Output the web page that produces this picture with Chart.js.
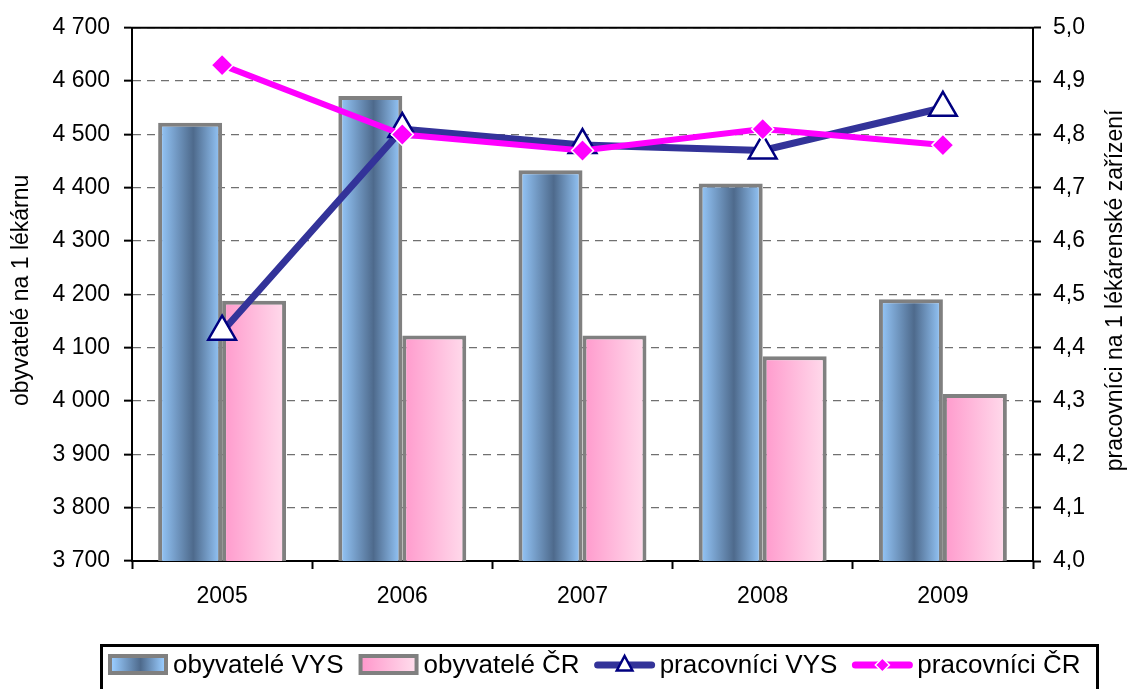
<!DOCTYPE html>
<html>
<head>
<meta charset="utf-8">
<script src="https://cdn.jsdelivr.net/npm/chart.js@4/dist/chart.umd.min.js"></script>
<style>
html,body{margin:0;padding:0;background:#fff;}
#wrap{width:1132px;height:689px;position:relative;}
</style>
</head>
<body>
<div id="wrap"><canvas id="c" width="1132" height="689"></canvas></div>
<script>
const categories = ['2005', '2006', '2007', '2008', '2009'];
const obyvateleVYS = [4522, 4572, 4433, 4408, 4191];
const obyvateleCR = [4188, 4123, 4123, 4084, 4013];
const pracovniciVYS = [4.43, 4.81, 4.78, 4.77, 4.85];
const pracovniciCR = [4.93, 4.80, 4.77, 4.81, 4.78];
const seriesNames = ['obyvatelé VYS', 'obyvatelé ČR', 'pracovníci VYS', 'pracovníci ČR'];
const leftTitle = 'obyvatelé na 1 lékárnu';
const rightTitle = 'pracovníci na 1 lékárenské zařízení';

const FONT = '"Liberation Sans", Arial, sans-serif';
const CAT_PCT = 0.71;
const blueStops = [[0, '#99ccff'], [0.55, '#4e6a8c'], [1, '#99ccff']];
const pinkStops = [[0, '#ff99cc'], [1, '#ffdcec']];

function makeGrad(c, x0, x1, stops) {
  const g = c.createLinearGradient(x0, 0, x1, 0);
  stops.forEach(s => g.addColorStop(s[0], s[1]));
  return g;
}

function barFill(stops, side) {
  return function (ctx) {
    const chart = ctx.chart;
    const xs = chart.scales && chart.scales.x;
    if (!xs || !chart.chartArea || ctx.dataIndex === undefined) return stops[0][1];
    const center = xs.getPixelForValue(ctx.dataIndex);
    const bw = xs.width / categories.length * CAT_PCT / 2;
    const x0 = side < 0 ? center - bw : center;
    return makeGrad(chart.ctx, x0, x0 + bw, stops);
  };
}

const framePlugin = {
  id: 'frame',
  beforeDatasetsDraw(chart) {
    const {ctx, chartArea: a} = chart;
    ctx.save();
    ctx.strokeStyle = '#000';
    ctx.lineWidth = 2;
    ctx.beginPath();
    ctx.moveTo(a.left - 1, a.top);
    ctx.lineTo(a.right + 1, a.top);
    ctx.stroke();
    ctx.restore();
  },
  afterDraw(chart) {
    const {ctx, chartArea: a} = chart;
    const midY = (a.top + a.bottom) / 2;
    [[leftTitle, 22, midY - 4], [rightTitle, 1116, midY - 4]].forEach(t => {
      ctx.save();
      ctx.fillStyle = '#000';
      ctx.font = '23px ' + FONT;
      ctx.textAlign = 'center';
      ctx.textBaseline = 'middle';
      ctx.translate(t[1], t[2]);
      ctx.rotate(-Math.PI / 2);
      ctx.fillText(t[0], 0, 0);
      ctx.restore();
    });

    // legend
    ctx.save();
    ctx.strokeStyle = '#000';
    ctx.lineWidth = 3;
    ctx.strokeRect(101.5, 645.5, 996, 60);
    ctx.font = '26px ' + FONT;
    ctx.textBaseline = 'middle';
    ctx.textAlign = 'left';
    const cy = 665;
    let x = 108;
    seriesNames.forEach((name, i) => {
      if (i < 2) {
        ctx.fillStyle = '#808080';
        ctx.fillRect(x, cy - 11, 60, 21);
        ctx.fillStyle = makeGrad(ctx, x + 4, x + 56, i === 0 ? blueStops : pinkStops);
        ctx.fillRect(x + 4, cy - 7, 52, 13);
      } else {
        const ds = chart.data.datasets[i];
        ctx.strokeStyle = ds.borderColor;
        ctx.lineWidth = 7;
        ctx.lineCap = 'round';
        ctx.beginPath();
        ctx.moveTo(x + 3, cy);
        ctx.lineTo(x + 57, cy);
        ctx.stroke();
        ctx.lineCap = 'butt';
        if (i === 2) {
          const r = 9;
          ctx.beginPath();
          ctx.moveTo(x + 30, cy - r);
          ctx.lineTo(x + 30 + r * 0.866, cy + r * 0.5 + 1);
          ctx.lineTo(x + 30 - r * 0.866, cy + r * 0.5 + 1);
          ctx.closePath();
          ctx.fillStyle = '#fff';
          ctx.fill();
          ctx.strokeStyle = '#000080';
          ctx.lineWidth = 2.5;
          ctx.stroke();
        } else {
          const r = 7;
          ctx.beginPath();
          ctx.moveTo(x + 30, cy - r);
          ctx.lineTo(x + 30 + r, cy);
          ctx.lineTo(x + 30, cy + r);
          ctx.lineTo(x + 30 - r, cy);
          ctx.closePath();
          ctx.fillStyle = '#ff00ff';
          ctx.fill();
          ctx.strokeStyle = '#fff';
          ctx.lineWidth = 1.5;
          ctx.stroke();
        }
      }
      ctx.fillStyle = '#000';
      ctx.fillText(name, x + 65, cy + 1);
      x += 65 + ctx.measureText(name).width + 15;
    });
    ctx.restore();
  }
};

new Chart(document.getElementById('c'), {
  data: {
    labels: categories,
    datasets: [
      {
        type: 'bar', label: seriesNames[0], data: obyvateleVYS, yAxisID: 'y', order: 2,
        backgroundColor: barFill(blueStops, -1), borderColor: '#808080', borderWidth: 4,
        borderSkipped: false, categoryPercentage: CAT_PCT, barPercentage: 1
      },
      {
        type: 'bar', label: seriesNames[1], data: obyvateleCR, yAxisID: 'y', order: 3,
        backgroundColor: barFill(pinkStops, 1), borderColor: '#808080', borderWidth: 4,
        borderSkipped: false, categoryPercentage: CAT_PCT, barPercentage: 1
      },
      {
        type: 'line', label: seriesNames[2], data: pracovniciVYS, yAxisID: 'y2', order: 1,
        borderColor: '#333399', borderWidth: 7, tension: 0,
        pointStyle: 'triangle', pointRadius: 16, pointBackgroundColor: '#ffffff',
        pointBorderColor: '#000080', pointBorderWidth: 2.5
      },
      {
        type: 'line', label: seriesNames[3], data: pracovniciCR, yAxisID: 'y2', order: 0,
        borderColor: '#ff00ff', borderWidth: 6, tension: 0,
        pointStyle: 'rectRot', pointRadius: 11, pointBackgroundColor: '#ff00ff',
        pointBorderColor: '#ffffff', pointBorderWidth: 1.5
      }
    ]
  },
  options: {
    responsive: false,
    animation: false,
    layout: {padding: {left: 0, right: 0, top: 22, bottom: 68}},
    plugins: {legend: {display: false}, tooltip: {enabled: false}},
    scales: {
      x: {
        type: 'category', offset: true,
        grid: {display: true, drawOnChartArea: false, offset: true, tickLength: 8, tickColor: '#000', tickWidth: 2},
        border: {display: true, color: '#000', width: 2},
        ticks: {color: '#000', font: {family: FONT, size: 23}, padding: 14, maxRotation: 0},
        afterFit(s) { s.height = 60; }
      },
      y: {
        position: 'left', min: 3700, max: 4700,
        ticks: {
          stepSize: 100, color: '#000', font: {family: FONT, size: 23}, padding: 14,
          callback: v => String(v).replace(/\B(?=(\d{3})+(?!\d))/g, ' ')
        },
        grid: {color: '#707070', lineWidth: 1.3, tickColor: '#000', tickWidth: 2, tickLength: 8},
        border: {display: true, color: '#000', width: 2, dash: [8, 6]},
        afterFit(s) { s.width = 132; }
      },
      y2: {
        position: 'right', min: 4.0, max: 5.0,
        ticks: {
          stepSize: 0.1, color: '#000', font: {family: FONT, size: 23}, padding: 12,
          callback: v => Number(v).toFixed(1).replace('.', ',')
        },
        grid: {drawOnChartArea: false, tickColor: '#000', tickWidth: 2, tickLength: 8},
        border: {display: true, color: '#000', width: 2},
        afterFit(s) { s.width = 99; }
      }
    }
  },
  plugins: [framePlugin]
});
</script>
</body>
</html>
